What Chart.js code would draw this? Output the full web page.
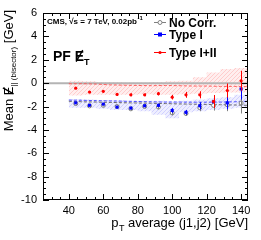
<!DOCTYPE html>
<html>
<head>
<meta charset="utf-8">
<script src="https://cdn.jsdelivr.net/npm/chart.js@4"></script>
<style>
	html, body { margin: 0; padding: 0; background: #fff; }
	#wrap { width: 261px; height: 240px; position: relative; }
</style>
</head>
<body>
<div id="wrap"><canvas id="metChart" width="261" height="240"></canvas></div>
<script>
// bin centres (pT average, GeV)
const binCenters = [44, 52, 60, 68, 76, 84, 92, 100, 108, 116, 124, 132, 140];
// band edges
const bandX = [40, 48, 56, 64, 72, 80, 88, 96, 104, 112, 120, 128, 136, 144];

// points
const noCorr = [-1.75, -1.95, -1.9, -2.0, -2.2, -2.0, -2.05, -2.55, -2.6, -2.1, -1.9, -1.85, -1.7];
const typeI = [-1.69, -1.9, -1.8, -2.05, -2.14, -1.94, -1.9, -2.34, -2.5, -1.94, -1.6, -1.69, -0.5];
const typeII = [-0.43, -0.77, -0.7, -0.97, -1.0, -1.0, -0.9, -1.2, -1.0, -1.0, -1.57, -0.63, 0.2];
const noCorrErr = [0.08, 0.08, 0.1, 0.1, 0.12, 0.12, 0.15, 0.2, 0.2, 0.3, 0.45, 0.55, 0.9];
const typeIErr = [0.08, 0.08, 0.1, 0.1, 0.12, 0.12, 0.15, 0.2, 0.2, 0.3, 0.45, 0.55, 0.9];
const typeIIErr = [0.08, 0.08, 0.1, 0.1, 0.12, 0.12, 0.15, 0.2, 0.25, 0.3, 0.55, 0.6, 0.85];

// fitted (dashed) lines
const noCorrFit = [-1.55, -1.6, -1.62, -1.65, -1.68, -1.7, -1.72, -1.75, -1.78, -1.8, -1.82, -1.85, -1.87, -1.9];
const typeIFit = [-1.45, -1.47, -1.5, -1.52, -1.55, -1.57, -1.6, -1.62, -1.62, -1.63, -1.63, -1.62, -1.6, -1.55];
const typeIIFit = [-0.05, -0.05, -0.08, -0.15, -0.18, -0.2, -0.22, -0.2, -0.22, -0.25, -0.25, -0.28, -0.28, -0.3];

// systematic bands
const typeIBandHi = [-1.35, -1.35, -1.4, -1.45, -1.45, -1.5, -1.5, -1.5, -1.55, -1.5, -1.4, -1.3, -1.2, -1.0];
const typeIBandLo = [-2.05, -2.1, -2.1, -2.2, -2.3, -2.3, -2.4, -2.7, -3.0, -2.5, -2.4, -2.3, -2.2, -2.1];
const typeIIBandHi = [0.2, 0.2, 0.15, 0.1, 0.1, 0.05, 0.05, 0.1, 0.15, 0.2, 0.5, 0.9, 1.2, 1.3];
const typeIIBandLo = [-1.05, -1.05, -1.0, -1.0, -1.0, -1.0, -0.95, -1.0, -1.0, -0.95, -0.9, -0.85, -0.8, -0.8];

const xTicks = [40, 60, 80, 100, 120, 140];
const yTicks = [-10, -8, -6, -4, -2, 0, 2, 4, 6];

const RED = "#ff0000";
const BLUE = "#0000ff";
const GRAY = "#808080";
const FONT = "'Liberation Sans', Arial, sans-serif";

// light hatched fill like ROOT's fill style
function hatch(bg, line) {
	const c = document.createElement("canvas");
	c.width = 4;
	c.height = 4;
	const g = c.getContext("2d");
	g.fillStyle = bg;
	g.fillRect(0, 0, 4, 4);
	g.fillStyle = line;
	for (let i = 0; i < 4; i++) g.fillRect(i, 3 - i, 1, 1);
	return g.createPattern(c, "repeat");
}

const pts = (xs, ys) => ys.map((y, i) => ({ x: xs[i], y: y }));

// draws E with a slash through it (missing energy)
function slashE(ctx, x, y, size) {
	const w = ctx.measureText("E").width;
	ctx.fillText("E", x, y);
	ctx.save();
	ctx.lineWidth = size > 11 ? 1.3 : 1;
	ctx.strokeStyle = ctx.fillStyle;
	ctx.beginPath();
	ctx.moveTo(x + w * 0.15, y + size * 0.05);
	ctx.lineTo(x + w * 0.85, y - size * 0.78);
	ctx.stroke();
	ctx.restore();
	return w;
}

const extras = {
	id: "extras",
	beforeDatasetsDraw(chart) {
		const { ctx, chartArea: a, scales } = chart;
		const y0 = scales.y.getPixelForValue(0);
		ctx.save();
		ctx.strokeStyle = "#b4b4b4";
		ctx.lineWidth = 2;
		ctx.beginPath();
		ctx.moveTo(a.left, y0);
		ctx.lineTo(a.right, y0);
		ctx.stroke();
		ctx.restore();
	},
	afterDatasetsDraw(chart) {
		const { ctx, scales } = chart;
		const xs = scales.x, ys = scales.y;
		ctx.save();
		const series = [
			[noCorr, noCorrErr, GRAY],
			[typeI, typeIErr, BLUE],
			[typeII, typeIIErr, RED],
		];
		series.forEach(([vals, errs, col]) => {
			ctx.strokeStyle = col;
			ctx.lineWidth = 1;
			vals.forEach((v, i) => {
				const px = Math.round(xs.getPixelForValue(binCenters[i])) + 0.5;
				ctx.beginPath();
				ctx.moveTo(px, ys.getPixelForValue(v + errs[i]));
				ctx.lineTo(px, ys.getPixelForValue(v - errs[i]));
				ctx.stroke();
			});
		});
		ctx.restore();
	},
	afterDraw(chart) {
		const { ctx, chartArea: a, scales } = chart;
		const xs = scales.x, ys = scales.y;
		ctx.save();
		ctx.strokeStyle = "#000";
		ctx.lineWidth = 1;
		ctx.strokeRect(a.left + 0.5, a.top + 0.5, a.right - a.left - 1, a.bottom - a.top - 1);

		// ticks inside the frame
		ctx.beginPath();
		for (let v = 25; v <= 144; v += 5) {
			const px = Math.round(xs.getPixelForValue(v)) + 0.5;
			const len = v % 20 === 0 ? 6 : 3;
			ctx.moveTo(px, a.bottom);
			ctx.lineTo(px, a.bottom - len);
			ctx.moveTo(px, a.top);
			ctx.lineTo(px, a.top + len);
		}
		for (let v = -10; v <= 6; v += 0.5) {
			const py = Math.round(ys.getPixelForValue(v)) + 0.5;
			const len = Math.abs(v % 2) < 1e-6 ? 6 : 3;
			ctx.moveTo(a.left, py);
			ctx.lineTo(a.left + len, py);
			ctx.moveTo(a.right, py);
			ctx.lineTo(a.right - len, py);
		}
		ctx.stroke();

		// texts
		ctx.fillStyle = "#000";
		ctx.textBaseline = "alphabetic";
		ctx.font = "bold 8px " + FONT;
		const cms = "CMS, \u221As = 7 TeV, 0.02pb";
		ctx.fillText(cms, 47, 24);
		const wc = ctx.measureText(cms).width;
		ctx.font = "bold 6px " + FONT;
		ctx.fillText("-1", 47 + wc + 0.5, 20);

		ctx.font = "bold 14px " + FONT;
		ctx.fillText("PF ", 53, 61);
		let px = 53 + ctx.measureText("PF ").width;
		px += slashE(ctx, px, 61, 14);
		ctx.font = "bold 9px " + FONT;
		ctx.fillText("T", px, 65);

		// legend
		const leg = [["No Corr.", GRAY, "circle", 22], ["Type I", BLUE, "rect", 34], ["Type I+II", RED, "dot", 52]];
		leg.forEach(([txt, col, shape, y]) => {
			ctx.strokeStyle = col;
			ctx.fillStyle = col;
			ctx.beginPath();
			ctx.moveTo(154, y + 0.5);
			ctx.lineTo(166, y + 0.5);
			ctx.stroke();
			if (shape === "circle") {
				ctx.beginPath();
				ctx.fillStyle = "#fff";
				ctx.arc(160, y + 0.5, 2, 0, Math.PI * 2);
				ctx.fill();
				ctx.stroke();
			} else if (shape === "rect") {
				ctx.fillRect(158, y - 1.5, 4, 4);
			} else {
				ctx.beginPath();
				ctx.arc(160, y + 0.5, 1.6, 0, Math.PI * 2);
				ctx.fill();
			}
			ctx.fillStyle = "#000";
			ctx.font = "bold 12px " + FONT;
			ctx.fillText(txt, 169, y + 5);
		});

		// x title
		ctx.font = "13px " + FONT;
		ctx.textAlign = "right";
		const rest = " average (j1,j2) [GeV]";
		const wRest = ctx.measureText(rest).width;
		ctx.fillText(rest, 248, 227);
		ctx.font = "9px " + FONT;
		ctx.fillText("T", 248 - wRest, 231);
		ctx.font = "13px " + FONT;
		ctx.fillText("p", 248 - wRest - 6, 227);

		// y title (rotated), built from its right end
		ctx.translate(13, 10);
		ctx.rotate(-Math.PI / 2);
		ctx.textAlign = "right";
		let x = 0;
		const parts = [[" [GeV]", 13, 0], ["|| (bisector)", 8, 3]];
		parts.forEach(([t, size, dy]) => {
			ctx.font = size + "px " + FONT;
			ctx.fillText(t, x, dy);
			x -= ctx.measureText(t).width;
		});
		ctx.font = "13px " + FONT;
		ctx.textAlign = "left";
		const wE = ctx.measureText("E").width;
		x -= wE;
		slashE(ctx, x, 0, 13);
		ctx.textAlign = "right";
		ctx.fillText("Mean ", x, 0);
		ctx.restore();
	},
};

const ctx = document.getElementById("metChart").getContext("2d");
new Chart(ctx, {
	type: "line",
	data: {
		// first dataset is drawn on top
		datasets: [
			{ label: "Type I+II", data: pts(binCenters, typeII), showLine: false, pointStyle: "circle", pointRadius: 1.6, borderColor: RED, backgroundColor: RED, borderWidth: 0 },
			{ label: "Type I", data: pts(binCenters, typeI), showLine: false, pointStyle: "rect", pointRadius: 2.2, borderColor: BLUE, backgroundColor: BLUE, borderWidth: 0 },
			{ label: "No Corr.", data: pts(binCenters, noCorr), showLine: false, pointStyle: "circle", pointRadius: 2, borderColor: GRAY, backgroundColor: "#fff", borderWidth: 1 },
			{ data: pts(bandX, noCorrFit), borderColor: "rgba(90,90,90,0.9)", borderWidth: 1, borderDash: [3, 2], pointRadius: 0, fill: false },
			{ data: pts(bandX, typeIFit), borderColor: "rgba(60,60,255,0.9)", borderWidth: 1, borderDash: [3, 2], pointRadius: 0, fill: false },
			{ data: pts(bandX, typeIIFit), borderColor: "rgba(255,80,80,0.9)", borderWidth: 1, borderDash: [3, 2], pointRadius: 0, fill: false },
			{ data: pts(bandX, typeIBandHi), borderWidth: 0, borderColor: "transparent", pointRadius: 0, stepped: "after", fill: "+1", backgroundColor: hatch("#eeeeff", "#d0d0ff") },
			{ data: pts(bandX, typeIBandLo), borderWidth: 0, borderColor: "transparent", pointRadius: 0, stepped: "after", fill: false },
			{ data: pts(bandX, typeIIBandHi), borderWidth: 0, borderColor: "transparent", pointRadius: 0, stepped: "after", fill: "+1", backgroundColor: hatch("#ffeeee", "#ffcccc") },
			{ data: pts(bandX, typeIIBandLo), borderWidth: 0, borderColor: "transparent", pointRadius: 0, stepped: "after", fill: false },
		],
	},
	options: {
		responsive: false,
		animation: false,
		layout: { padding: { top: 13, right: 13, left: 0, bottom: 0 } },
		plugins: { legend: { display: false }, tooltip: { enabled: false }, filler: { drawTime: "beforeDatasetsDraw" } },
		scales: {
			x: {
				type: "linear",
				min: 25,
				max: 144,
				grid: { display: false, drawTicks: false, tickLength: 0 },
				border: { display: false },
				afterBuildTicks: (s) => { s.ticks = xTicks.map((v) => ({ value: v })); },
				afterFit: (s) => { s.height = 40; },
				ticks: { color: "#000", padding: 4, font: { family: FONT, size: 11 } },
			},
			y: {
				min: -10,
				max: 6,
				grid: { display: false, drawTicks: false, tickLength: 0 },
				border: { display: false },
				afterBuildTicks: (s) => { s.ticks = yTicks.map((v) => ({ value: v })); },
				afterFit: (s) => { s.width = 43; },
				ticks: { color: "#000", padding: 6, font: { family: FONT, size: 11 } },
			},
		},
	},
	plugins: [extras],
});
</script>
</body>
</html>
